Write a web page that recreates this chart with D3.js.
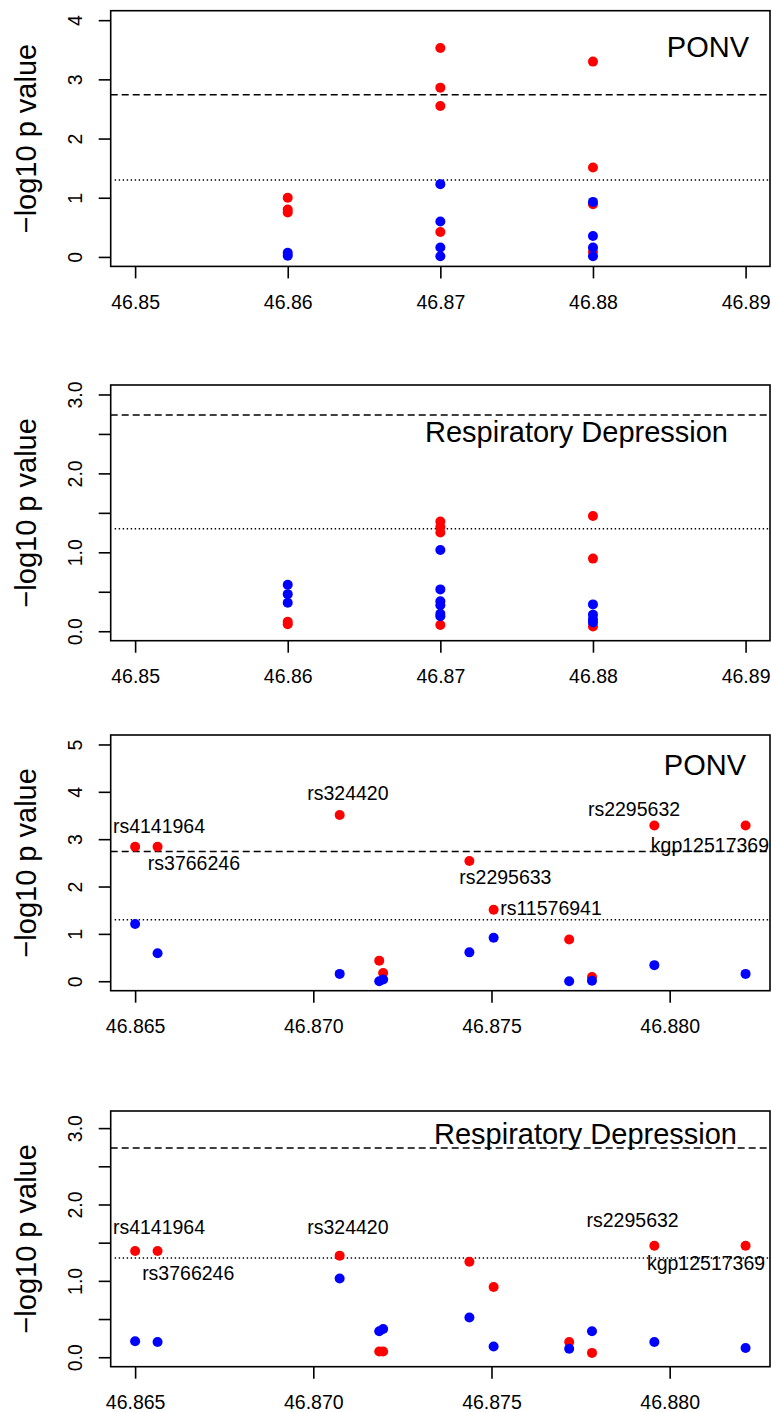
<!DOCTYPE html>
<html>
<head>
<meta charset="utf-8">
<script src="https://cdn.jsdelivr.net/npm/d3@7"></script>
<style>
  body { margin: 0; background: #fff; }
  svg text { font-family: "Liberation Sans", Arial, sans-serif; fill: #000; }
</style>
</head>
<body>
<div id="chart"></div>
<script>
// panel 1: PONV, coarse positions (Mb)
const p1RedX  = [46.86, 46.86, 46.86, 46.87, 46.87, 46.87, 46.87, 46.88, 46.88, 46.88, 46.88];
const p1RedY  = [1.00, 0.80, 0.75, 3.53, 2.86, 2.55, 0.42, 3.30, 1.51, 0.89, 0.085];
const p1BlueX = [46.86, 46.86, 46.87, 46.87, 46.87, 46.87, 46.88, 46.88, 46.88, 46.88];
const p1BlueY = [0.07, 0.02, 1.23, 0.60, 0.16, 0.01, 0.93, 0.355, 0.16, 0.01];

// panel 2: Respiratory Depression, coarse positions
const p2RedX  = [46.86, 46.86, 46.87, 46.87, 46.87, 46.87, 46.88, 46.88, 46.88];
const p2RedY  = [0.12, 0.09, 1.39, 1.32, 1.25, 0.08, 1.46, 0.92, 0.06];
const p2BlueX = [46.86, 46.86, 46.86, 46.87, 46.87, 46.87, 46.87, 46.87, 46.87, 46.88, 46.88, 46.88, 46.88];
const p2BlueY = [0.59, 0.47, 0.36, 1.03, 0.53, 0.38, 0.33, 0.22, 0.19, 0.34, 0.21, 0.15, 0.11];

// panels 3-4: exact SNP positions (Mb)
const snpPos = [46.86500, 46.86563, 46.87074, 46.87185, 46.87196, 46.87438,
                46.87506, 46.87718, 46.87782, 46.87957, 46.88213];
const p3Red  = [2.84, 2.84, 3.51, 0.435, 0.175, 2.54, 1.51, 0.88, 0.09, 3.29, 3.29];
const p3Blue = [1.21, 0.59, 0.155, 0.0, 0.035, 0.61, 0.92, 0.0, 0.01, 0.34, 0.155];
const p4Red  = [1.39, 1.39, 1.33, 0.074, 0.074, 1.25, 0.92, 0.20, 0.057, 1.46, 1.46];
const p4Blue = [0.21, 0.20, 1.03, 0.34, 0.37, 0.52, 0.14, 0.11, 0.34, 0.20, 0.12];

// SNP labels (text centre in data units)
const p3Labels = [
  ["rs4141964", 46.86567, 3.28], ["rs3766246", 46.86665, 2.49],
  ["rs324420", 46.87097, 3.98], ["rs2295633", 46.87539, 2.19],
  ["rs11576941", 46.87667, 1.545], ["rs2295632", 46.87900, 3.64],
  ["kgp12517369", 46.88113, 2.88]
];
const p4Labels = [
  ["rs4141964", 46.86567, 1.70], ["rs3766246", 46.86649, 1.10],
  ["rs324420", 46.87097, 1.70], ["rs2295632", 46.87896, 1.80],
  ["kgp12517369", 46.88102, 1.23]
];

const coarseTicks = [46.85, 46.86, 46.87, 46.88, 46.89];
const fineTicks = [46.865, 46.870, 46.875, 46.880];
const sigLine = 2.74;   // dashed
const nomLine = 1.30;   // dotted

const zip = (xs, ys) => xs.map((x, i) => ({x: x, y: ys[i]}));

const panels = [
  { top: 10.7, title: "PONV", titleDx: -21, titleDy: 46.3,
    xlim: [46.85, 46.89], xTicks: coarseTicks, xFmt: d3.format(".2f"),
    ylim: [0, 4], yTicks: [0, 1, 2, 3, 4], yLab: [0, 1, 2, 3, 4], yFmt: d3.format("d"),
    red: zip(p1RedX, p1RedY), blue: zip(p1BlueX, p1BlueY), labels: [] },
  { top: 385, title: "Respiratory Depression", titleDx: -42, titleDy: 56.7,
    xlim: [46.85, 46.89], xTicks: coarseTicks, xFmt: d3.format(".2f"),
    ylim: [0, 3], yTicks: [0, 0.5, 1, 1.5, 2, 2.5, 3], yLab: [0, 1, 2, 3], yFmt: d3.format(".1f"),
    red: zip(p2RedX, p2RedY), blue: zip(p2BlueX, p2BlueY), labels: [] },
  { top: 735, title: "PONV", titleDx: -24, titleDy: 40,
    xlim: d3.extent(snpPos), xTicks: fineTicks, xFmt: d3.format(".3f"),
    ylim: [0, 5], yTicks: [0, 1, 2, 3, 4, 5], yLab: [0, 1, 2, 3, 4, 5], yFmt: d3.format("d"),
    red: zip(snpPos, p3Red), blue: zip(snpPos, p3Blue), labels: p3Labels },
  { top: 1111, title: "Respiratory Depression", titleDx: -33, titleDy: 33,
    xlim: d3.extent(snpPos), xTicks: fineTicks, xFmt: d3.format(".3f"),
    ylim: [0, 3.1], yTicks: [0, 0.5, 1, 1.5, 2, 2.5, 3], yLab: [0, 1, 2, 3], yFmt: d3.format(".1f"),
    red: zip(snpPos, p4Red), blue: zip(snpPos, p4Blue), labels: p4Labels }
];

const W = 771, H = 1412;
const left = 110.7, right = 770, boxH = 255.7;
const tickLen = 12;

const svg = d3.select("#chart").append("svg")
  .attr("width", W).attr("height", H);

// R-style 4% axis extension
const ext = ([a, b]) => { const d = (b - a) * 0.04; return [a - d, b + d]; };

panels.forEach(p => {
  const x = d3.scaleLinear().domain(ext(p.xlim)).range([left, right]);
  const y = d3.scaleLinear().domain(ext(p.ylim)).range([p.top + boxH, p.top]);
  const g = svg.append("g");

  // reference lines
  g.append("line")
    .attr("x1", left).attr("x2", right)
    .attr("y1", y(sigLine)).attr("y2", y(sigLine))
    .attr("stroke", "#000").attr("stroke-width", 1.6)
    .attr("stroke-dasharray", "7,4");
  g.append("line")
    .attr("x1", left + 4).attr("x2", right)
    .attr("y1", y(nomLine)).attr("y2", y(nomLine))
    .attr("stroke", "#000").attr("stroke-width", 1.5)
    .attr("stroke-dasharray", "1.4,2.6");

  // points: red first, blue on top
  g.selectAll(".red").data(p.red).enter().append("circle")
    .attr("cx", d => x(d.x)).attr("cy", d => y(d.y))
    .attr("r", 5).attr("fill", "#ff0000");
  g.selectAll(".blue").data(p.blue).enter().append("circle")
    .attr("cx", d => x(d.x)).attr("cy", d => y(d.y))
    .attr("r", 5).attr("fill", "#0000ff");

  // SNP labels
  g.selectAll(".lab").data(p.labels).enter().append("text")
    .attr("x", d => x(d[1])).attr("y", d => y(d[2]))
    .attr("dy", "0.35em")
    .attr("text-anchor", "middle")
    .style("font-size", "19.5px")
    .text(d => d[0]);

  // title
  g.append("text")
    .attr("x", right + p.titleDx).attr("y", p.top + p.titleDy)
    .attr("text-anchor", "end")
    .style("font-size", "29px")
    .text(p.title);

  // box
  g.append("rect")
    .attr("x", left).attr("y", p.top)
    .attr("width", right - left).attr("height", boxH)
    .attr("fill", "none").attr("stroke", "#000").attr("stroke-width", 1.6);

  // x axis
  const xa = g.append("g")
    .attr("transform", `translate(0,${p.top + boxH})`)
    .call(d3.axisBottom(x).tickValues(p.xTicks).tickFormat(p.xFmt)
      .tickSize(tickLen).tickSizeOuter(0));
  xa.select(".domain").remove();
  xa.selectAll("line").attr("stroke-width", 1.6);
  xa.selectAll("text")
    .attr("y", 42.5).attr("dy", null)
    .style("font-size", "19.5px");

  // y axis
  const ya = g.append("g")
    .attr("transform", `translate(${left},0)`)
    .call(d3.axisLeft(y).tickValues(p.yTicks)
      .tickFormat(d => p.yLab.includes(d) ? p.yFmt(d) : "")
      .tickSize(tickLen).tickSizeOuter(0));
  ya.select(".domain").remove();
  ya.selectAll("line").attr("stroke-width", 1.6);
  ya.selectAll("text")
    .attr("x", null).attr("dy", null)
    .attr("text-anchor", "middle")
    .attr("transform", "translate(-28.7,0) rotate(-90)")
    .style("font-size", "19.5px");

  // y title
  g.append("text")
    .attr("transform", `translate(36,${p.top + boxH / 2}) rotate(-90)`)
    .attr("text-anchor", "middle")
    .style("font-size", "29px")
    .text("\u2212log10 p value");
});
</script>
</body>
</html>
